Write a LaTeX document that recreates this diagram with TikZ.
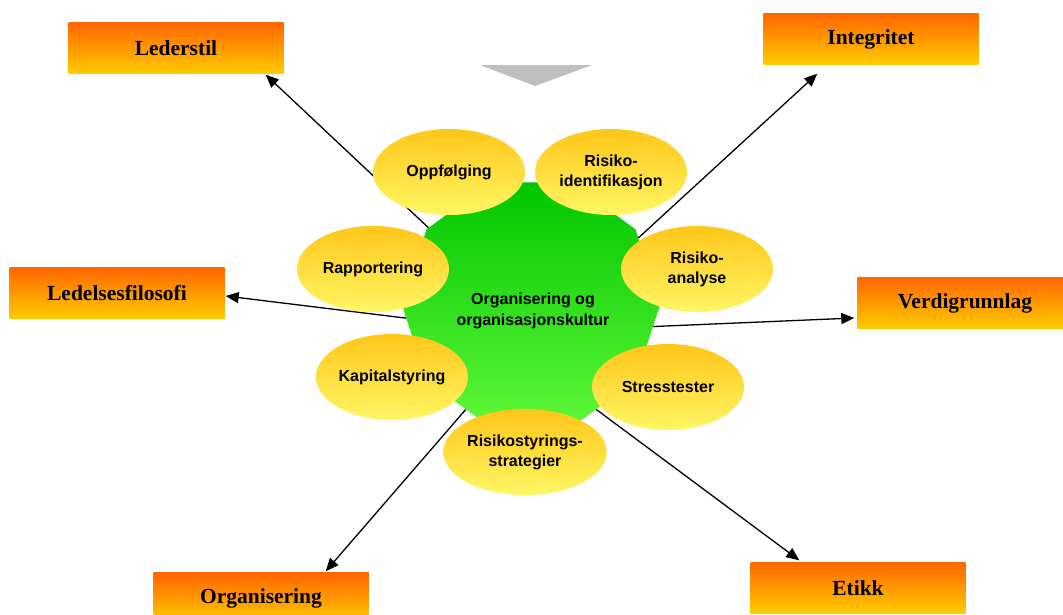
\documentclass[tikz,border=0pt]{standalone}
\usepackage{fontspec}
\setmainfont{Liberation Serif}
\setsansfont{Liberation Sans}
\usetikzlibrary{arrows.meta, shapes.geometric}
\definecolor{boxtop}{RGB}{255,102,0}
\definecolor{boxbottom}{RGB}{255,204,0}
\definecolor{petaltop}{RGB}{255,198,25}
\definecolor{petalbottom}{RGB}{255,246,100}
\definecolor{hubtop}{RGB}{0,198,0}
\definecolor{hubbottom}{RGB}{95,248,55}

\begin{document}
\begin{tikzpicture}[
    x=1pt, y=-1pt, >={Triangle[length=13pt,width=11pt]},
    topicbox/.style={rectangle, minimum width=215pt, minimum height=51pt, top color=boxtop, bottom color=boxbottom, font=\fontsize{21.5}{24}\selectfont\bfseries},
    petal/.style={ellipse, minimum width=152pt, minimum height=86pt, inner sep=0pt, top color=petaltop, bottom color=petalbottom, align=center, font=\fontsize{16}{20}\selectfont\sffamily\bfseries},
    hubshape/.style={regular polygon, regular polygon sides=10, minimum size=258pt, inner sep=0pt, top color=hubtop, bottom color=hubbottom}
]
\useasboundingbox (0,0) rectangle (1063,614);
\fill[gray!50] (480,65) -- (592,65) -- (535,86) -- cycle;

\node (hub) [hubshape] at (531,305) {};
\node (hubtext) [align=center, font=\fontsize{16}{21}\selectfont\sffamily\bfseries] at (533,311) {Organisering og\\organisasjonskultur};

\node (lederstil) [topicbox] at (176,48) {Lederstil};
\node (integritet) [topicbox] at (871,39) {Integritet};
\node (ledelse) [topicbox] at (117,293) {Ledelsesfilosofi};
\node (verdi) [topicbox] at (965,303) {Verdigrunnlag};
\node (organisering) [topicbox] at (261,598) {Organisering};
\node (etikk) [topicbox] at (858,588) {Etikk};

\draw[->, line width=1.3pt] (hub.143) -- ([xshift=-18pt, yshift=-1pt]lederstil.south east);
\draw[->, line width=1.3pt] (hub.32) -- ([xshift=54pt, yshift=-9pt]integritet.south west);
\draw[->, line width=1.3pt] (hub.186) -- ([xshift=1pt, yshift=-3pt]ledelse.east);
\draw[->, line width=1.3pt] (hub.-10) -- ([xshift=-3pt, yshift=-15pt]verdi.west);
\draw[->, line width=1.3pt] (hub.-122) -- ([xshift=-43pt, yshift=1pt]organisering.north east);
\draw[->, line width=1.3pt] (hub.-58) -- ([xshift=49pt, yshift=2pt]etikk.north west);

\node (oppfolging) [petal] at (449,172) {Oppfølging};
\node (identifikasjon) [petal] at (611,172) {Risiko-\\identifikasjon};
\node (rapportering) [petal] at (373,269) {Rapportering};
\node (analyse) [petal] at (697,269) {Risiko-\\analyse};
\node (kapital) [petal] at (392,377) {Kapitalstyring};
\node (stress) [petal] at (668,387) {Stresstester};
\node (strategier) [petal] at (525,452) {Risikostyrings-\\strategier};
\end{tikzpicture}
\end{document}
